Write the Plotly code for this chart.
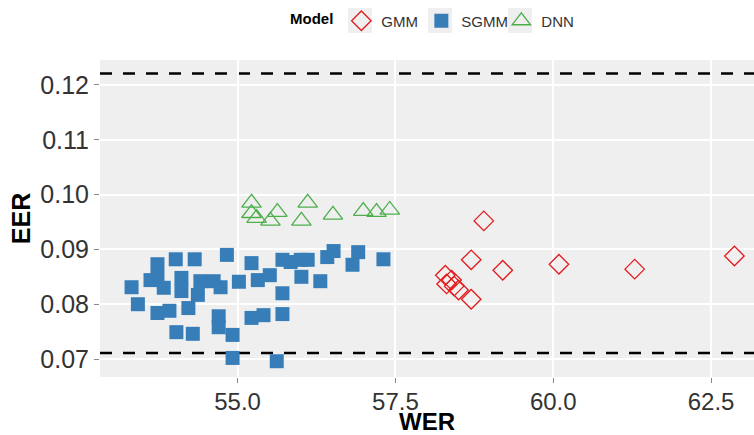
import plotly.graph_objects as go

# Word error rate (WER) vs equal error rate (EER) per model
gmm_wer = [58.90, 58.70, 59.20, 60.09, 61.29, 62.87, 58.70, 58.50, 58.29, 58.31, 58.39, 58.43]
gmm_eer = [0.0952, 0.0881, 0.0862, 0.0873, 0.0864, 0.0888, 0.0809, 0.0826, 0.0853, 0.0837, 0.0844, 0.0833]

sgmm_wer = [53.32, 53.42, 53.62, 53.73, 53.73, 53.83, 54.02, 54.32, 54.11, 54.11,
            54.22, 54.37, 54.41, 54.62, 54.73, 53.73, 53.92, 54.03, 54.29, 54.70,
            54.70, 54.83, 54.92, 54.92, 55.02, 55.22, 55.32, 55.51, 55.71, 55.84,
            56.00, 56.11, 56.01, 56.31, 55.71, 56.42, 56.52, 56.82, 56.91, 57.31,
            55.22, 55.41, 55.71, 55.62]
sgmm_eer = [0.0831, 0.0800, 0.0844, 0.0873, 0.0848, 0.0830, 0.0882, 0.0882, 0.0848, 0.0824,
            0.0793, 0.0817, 0.0842, 0.0842, 0.0831, 0.0784, 0.0788, 0.0749, 0.0746, 0.0778,
            0.0758, 0.0890, 0.0744, 0.0702, 0.0841, 0.0875, 0.0844, 0.0853, 0.0881, 0.0877,
            0.0881, 0.0881, 0.0850, 0.0842, 0.0820, 0.0886, 0.0897, 0.0872, 0.0895, 0.0882,
            0.0775, 0.0780, 0.0782, 0.0696]

dnn_wer = [55.22, 55.22, 55.30, 55.63, 55.52, 56.11, 56.01, 56.51, 56.99, 57.20, 57.41]
dnn_eer = [0.0985, 0.0966, 0.0957, 0.0968, 0.0952, 0.0985, 0.0952, 0.0963, 0.0970, 0.0968, 0.0972]

# Reference EER levels drawn as dashed horizontal lines
eer_bounds = [0.1221, 0.0711]

x_ticks = [55.0, 57.5, 60.0, 62.5]
y_ticks = [0.07, 0.08, 0.09, 0.10, 0.11, 0.12]

RED = "#E41A1C"
BLUE = "#377EB8"
GREEN = "#4DAF4A"
PANEL = "#EFEFEF"
FONT = "Liberation Sans"

# Plot-area geometry in pixels (used to place the legend key backgrounds)
FIG_W, FIG_H = 754, 435
M_L, M_R, M_T, M_B = 100, 0, 60, 58
PLOT_W = FIG_W - M_L - M_R
PLOT_H = FIG_H - M_T - M_B


def paper_x(px):
    return (px - M_L) / PLOT_W


def paper_y(py):
    return 1 + (M_T - py) / PLOT_H


fig = go.Figure()

fig.add_trace(go.Scatter(
    x=gmm_wer, y=gmm_eer, mode="markers", name="GMM",
    marker=dict(symbol="diamond-open", size=15, color=RED, line=dict(width=1.3, color=RED)),
))
fig.add_trace(go.Scatter(
    x=sgmm_wer, y=sgmm_eer, mode="markers", name="SGMM",
    marker=dict(symbol="square", size=14, color=BLUE, line=dict(width=0)),
))
fig.add_trace(go.Scatter(
    x=dnn_wer, y=dnn_eer, mode="markers", name="DNN",
    marker=dict(symbol="triangle-up-open", size=17, color=GREEN, line=dict(width=1.3, color=GREEN)),
))

for level in eer_bounds:
    fig.add_shape(type="line", xref="paper", x0=0, x1=1, yref="y", y0=level, y1=level,
                  line=dict(color="black", width=2.6, dash="12px,11px"), layer="below")

# Grey backgrounds behind the legend keys
for cx in (360, 440, 520):
    fig.add_shape(type="rect", xref="paper", yref="paper",
                  x0=paper_x(cx - 12), x1=paper_x(cx + 12),
                  y0=paper_y(33), y1=paper_y(8),
                  fillcolor=PANEL, line=dict(width=0), layer="above")

fig.update_layout(
    width=FIG_W, height=FIG_H,
    margin=dict(l=M_L, r=M_R, t=M_T, b=M_B, autoexpand=False),
    paper_bgcolor="white",
    plot_bgcolor=PANEL,
    font=dict(family=FONT, color="#333333"),
    showlegend=True,
    legend=dict(
        orientation="h", x=paper_x(288), xanchor="left", y=paper_y(21), yanchor="middle",
        title=dict(text="<b>Model</b>", side="left", font=dict(size=15, color="black")),
        font=dict(size=15, color="#333333"),
        entrywidth=35, entrywidthmode="pixels",
        bgcolor="rgba(0,0,0,0)",
    ),
    xaxis=dict(
        range=[52.82, 63.18], tickvals=x_ticks, tickformat=".1f",
        showgrid=True, gridcolor="white", gridwidth=1.5, zeroline=False,
        ticks="outside", ticklen=5, tickcolor="#888888", tickwidth=1,
        tickfont=dict(size=24, color="#333333"), automargin=False,
        ticklabelstandoff=-2,
        title=dict(text="<b>WER</b>", font=dict(size=24, color="black"), standoff=3),
    ),
    yaxis=dict(
        range=[0.06672, 0.12456], tickvals=y_ticks, tickformat=".2f",
        showgrid=True, gridcolor="white", gridwidth=1.5, zeroline=False,
        ticks="outside", ticklen=5, tickcolor="#888888", tickwidth=1,
        tickfont=dict(size=25, color="#333333"), automargin=False,
        title=dict(text="<b>EER</b>", font=dict(size=25, color="black"), standoff=2),
    ),
)

fig.write_html("out.html")
